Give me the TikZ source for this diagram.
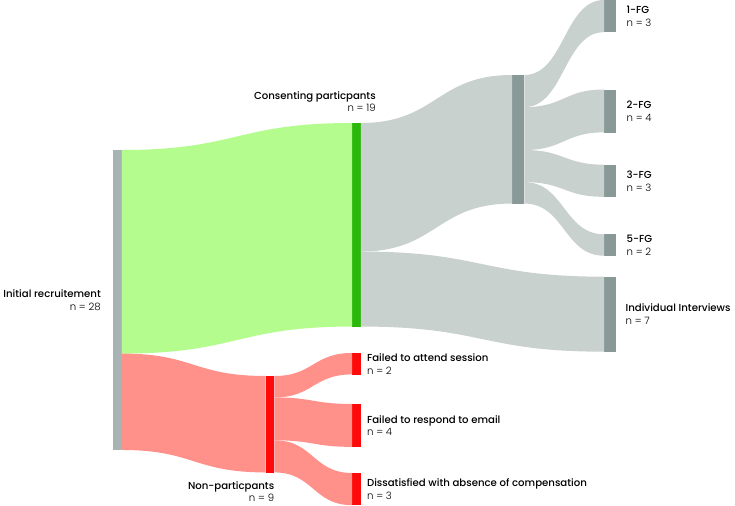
\documentclass[tikz,border=0pt]{standalone}
\usepackage{fontspec}
\setmainfont{Poppins Light}
\newfontfamily\medfont{Poppins Medium}
\usetikzlibrary{positioning,calc}

\definecolor{initbar}{HTML}{A8B4B3}
\definecolor{greenband}{HTML}{B3FC8D}
\definecolor{greenbar}{HTML}{2BB80A}
\definecolor{redband}{HTML}{FF918A}
\definecolor{redbar}{HTML}{FF0A0A}
\definecolor{greyband}{HTML}{C9D1CF}
\definecolor{greybar}{HTML}{889997}

% band from #2 (offset #3) to #4 (offset #5), #6 persons thick
\newcommand{\flowband}[6]{%
  \coordinate (s1) at ($(#2.north east)+(0,-#3*10.714)$);
  \coordinate (s2) at ($(#2.north east)+(0,-#3*10.714-#6*10.714)$);
  \coordinate (t1) at ($(#4.north west)+(0,-#5*10.714)$);
  \coordinate (t2) at ($(#4.north west)+(0,-#5*10.714-#6*10.714)$);
  \coordinate (m) at ($(s1)!.5!(t1)$);
  \fill[#1] (s1) .. controls (m |- s1) and (m |- t1) .. (t1) -- (t2)
    .. controls (m |- t2) and (m |- s2) .. (s2) -- cycle;
}
\newcommand{\twolines}[2]{{\medfont #1}\\#2}

\begin{document}
\begin{tikzpicture}[x=1bp,y=1bp,
    bar/.style={rectangle,inner sep=0pt,minimum width=8.5bp,anchor=north west},
    widebar/.style={bar,minimum width=12bp},
    lbl/.style={inner sep=0pt,font=\fontsize{10.2}{12.7}\selectfont,align=left}]
  \useasboundingbox (0,0) rectangle (735,506);

  % bars
  \node[bar,fill=initbar,minimum height=300bp] (init) at (113,356) {};
  \node[bar,fill=greenbar,minimum height=203.6bp] (cons) at (352,383) {};
  \node[bar,fill=redbar,minimum height=96.4bp] (nonp) at (265.5,130) {};
  \node[widebar,fill=greybar,minimum height=128.6bp] (hub) at (512,431) {};
  \node[widebar,fill=greybar,minimum height=32.1bp] (fg1) at (604,506) {};
  \node[widebar,fill=greybar,minimum height=42.9bp] (fg2) at (604,416.5) {};
  \node[widebar,fill=greybar,minimum height=32.1bp] (fg3) at (604,341.3) {};
  \node[widebar,fill=greybar,minimum height=21.4bp] (fg5) at (604,271.7) {};
  \node[widebar,fill=greybar,minimum height=75bp] (indiv) at (604,229.3) {};
  \node[bar,fill=redbar,minimum height=21.4bp] (attend) at (352,153) {};
  \node[bar,fill=redbar,minimum height=42.9bp] (respond) at (352,102) {};
  \node[bar,fill=redbar,minimum height=32.1bp] (dissat) at (352,33) {};

  % bands
  \flowband{greenband}{init}{0}{cons}{0}{19}
  \flowband{redband}{init}{19}{nonp}{0}{9}
  \flowband{greyband}{cons}{0}{hub}{0}{12}
  \flowband{greyband}{cons}{12}{indiv}{0}{7}
  \flowband{greyband}{hub}{0}{fg1}{0}{3}
  \flowband{greyband}{hub}{3}{fg2}{0}{4}
  \flowband{greyband}{hub}{7}{fg3}{0}{3}
  \flowband{greyband}{hub}{10}{fg5}{0}{2}
  \flowband{redband}{nonp}{0}{attend}{0}{2}
  \flowband{redband}{nonp}{2}{respond}{0}{4}
  \flowband{redband}{nonp}{6}{dissat}{0}{3}

  % labels
  \node[lbl,align=right,left=12bp of init] (initlbl) {\twolines{Initial recruitement}{n = 28}};
  \node[lbl,align=right,anchor=south east] (conslbl) at ($(cons.north east)+(15,11)$) {\twolines{Consenting particpants}{n = 19}};
  \node[lbl,align=right,anchor=north east] (nonplbl) at ($(nonp.south east)+(0,-8.5)$) {\twolines{Non-particpants}{n = 9}};
  \node[lbl,right=10bp of fg1] (fg1lbl) {\twolines{1-FG}{n = 3}};
  \node[lbl,right=10bp of fg2] (fg2lbl) {\twolines{2-FG}{n = 4}};
  \node[lbl,right=10bp of fg3] (fg3lbl) {\twolines{3-FG}{n = 3}};
  \node[lbl,right=10bp of fg5] (fg5lbl) {\twolines{5-FG}{n = 2}};
  \node[lbl,right=9bp of indiv] (indivlbl) {\twolines{Individual Interviews}{n = 7}};
  \node[lbl,right=6bp of attend] (attendlbl) {\twolines{Failed to attend session}{n = 2}};
  \node[lbl,right=6bp of respond] (respondlbl) {\twolines{Failed to respond to email}{n = 4}};
  \node[lbl,right=6bp of dissat] (dissatlbl) {\twolines{Dissatisfied with absence of compensation}{n = 3}};
\end{tikzpicture}
\end{document}
